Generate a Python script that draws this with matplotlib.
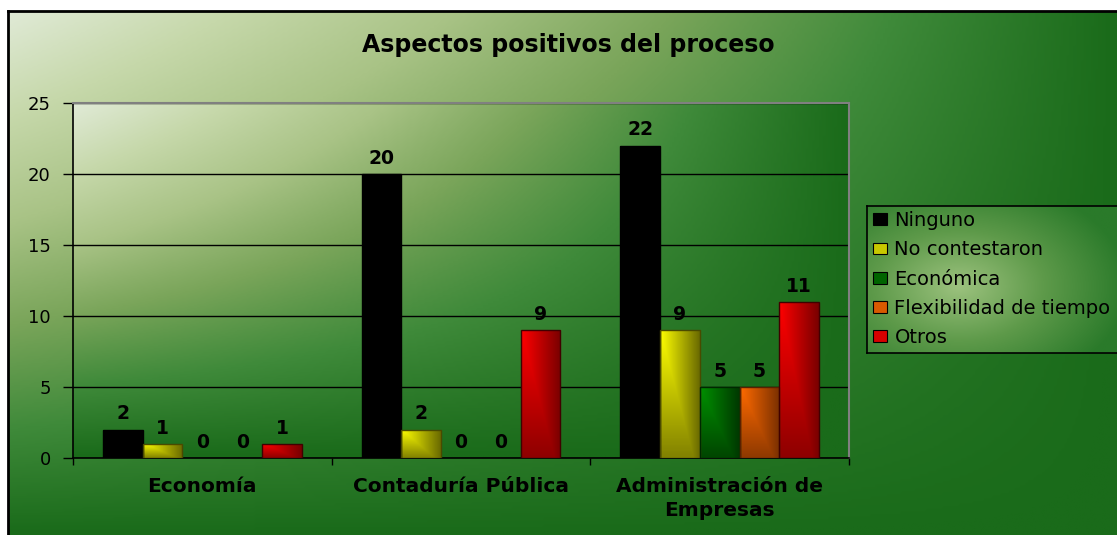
import numpy as np
import matplotlib
matplotlib.use("Agg")
import matplotlib.pyplot as plt
from matplotlib.colors import LinearSegmentedColormap
from matplotlib.patches import Patch

categorias = ["Economía", "Contaduría Pública", "Administración de\nEmpresas"]
series = ["Ninguno", "No contestaron", "Económica", "Flexibilidad de tiempo", "Otros"]
ninguno = [2, 20, 22]
no_contestaron = [1, 2, 9]
economica = [0, 0, 5]
flexibilidad = [0, 0, 5]
otros = [1, 9, 11]
valores = [ninguno, no_contestaron, economica, flexibilidad, otros]
yticks = [0, 5, 10, 15, 20, 25]

# (claro, oscuro, borde, leyenda) for each series
colores = [("#000000", "#000000", "#000000", "#000000"),
           ("#ffff00", "#6b6b00", "#4a4a00", "#c8c800"),
           ("#009000", "#003800", "#002800", "#006400"),
           ("#ff6a00", "#7a3000", "#5a2000", "#d85a00"),
           ("#ff0000", "#7a0000", "#400000", "#d80000")]

W, H = 1117, 535
fig = plt.figure(figsize=(W / 100, H / 100), dpi=100)
fig.patch.set_facecolor("white")

fondo = LinearSegmentedColormap.from_list(
    "fondo", ["#e0ead6", "#c6d8aa", "#a9c386", "#7aa55a", "#3f8a3a", "#1a6b1a"])


def esquina(nx, ny):
    # gradient starting at the top-left corner
    X, Y = np.meshgrid(np.linspace(0, 1, nx), np.linspace(0, 1, ny))
    return 1 - (1 - X) * (1 - Y)


# chart area background
bg = fig.add_axes([8 / W, 0, 1 - 8 / W, 1 - 11 / H], zorder=-2)
bg.imshow(esquina(400, 200), cmap=fondo, vmin=0, vmax=1, aspect="auto",
          extent=[0, 1, 0, 1], interpolation="bilinear")
bg.set_xticks([])
bg.set_yticks([])
for k, s in bg.spines.items():
    s.set_color("black")
    s.set_linewidth(2)
bg.spines["right"].set_visible(False)
bg.spines["bottom"].set_visible(False)

# plot area
pos = [73 / W, 1 - 458 / H, 776 / W, 355 / H]
pa = fig.add_axes(pos, zorder=-1)
pa.imshow(esquina(300, 150), cmap=fondo, vmin=0, vmax=1, aspect="auto",
          extent=[0, 1, 0, 1], interpolation="bilinear")
pa.axis("off")

ax = fig.add_axes(pos, zorder=0)
ax.patch.set_alpha(0)

x = np.arange(len(categorias))
ancho = 1 / 6.5
X, Y = np.meshgrid(np.linspace(0, 1, 40), np.linspace(0, 1, 120))
t = np.maximum(X, Y * 0.85)
for i, (vals, (claro, oscuro, borde, _)) in enumerate(zip(valores, colores)):
    barras = ax.bar(x + (i - 2) * ancho, vals, ancho, facecolor="none",
                    edgecolor=borde, linewidth=1, zorder=4)
    cmap = LinearSegmentedColormap.from_list(series[i], [claro, oscuro])
    for b in barras:
        h = b.get_height()
        if h <= 0:
            b.set_linewidth(0)
            continue
        x0 = b.get_x()
        im = ax.imshow(t, cmap=cmap, vmin=0, vmax=1, aspect="auto",
                       extent=[x0, x0 + b.get_width(), 0, h], zorder=3,
                       interpolation="bilinear")
        im.set_clip_path(b)
    ax.bar_label(barras, padding=4.5, fontsize=13.5, fontweight="bold")

ax.set_xlim(-0.5, 2.5)
ax.set_ylim(0, 25)
ax.set_yticks(yticks)
ax.yaxis.grid(True, color="black", linewidth=1)
ax.set_axisbelow(True)
ax.tick_params(axis="y", direction="out", length=7, width=1, pad=9, labelsize=13)
ax.set_xticks([-0.5, 0.5, 1.5, 2.5])
ax.set_xticklabels([])
ax.tick_params(axis="x", which="major", direction="out", length=5, width=1)
ax.set_xticks(x, minor=True)
ax.set_xticklabels(categorias, minor=True, fontsize=14.5, fontweight="bold",
                   linespacing=1.3)
ax.tick_params(axis="x", which="minor", length=0, pad=14)
for k in ["left", "bottom"]:
    ax.spines[k].set_color("black")
    ax.spines[k].set_linewidth(1.2)
for k in ["top", "right"]:
    ax.spines[k].set_color("#808080")
    ax.spines[k].set_linewidth(1.5)

fig.text(568 / W, 1 - 52 / H, "Aspectos positivos del proceso", ha="center",
         va="baseline", fontsize=17, fontweight="bold")

# legend box with its own gradient
lg = fig.add_axes([867 / W, 1 - 353 / H, 262 / W, 147 / H], zorder=1)
LX, LY = np.meshgrid(np.linspace(0, 1, 200), np.linspace(0, 1, 120))
d = np.sqrt(((LX - 0.35) / 0.65) ** 2 + ((LY - 0.55) / 0.75) ** 2)
lg.imshow(np.clip(d, 0, 1), cmap=LinearSegmentedColormap.from_list(
    "ley", ["#9cc27e", "#5e9a4a", "#2a7a2a"]), vmin=0, vmax=1, aspect="auto",
    extent=[0, 1, 0, 1], interpolation="bilinear")
lg.set_xticks([])
lg.set_yticks([])
for s in lg.spines.values():
    s.set_color("black")
    s.set_linewidth(1.2)

handles = [Patch(facecolor=c[3], edgecolor="black", linewidth=0.8) for c in colores]
fig.legend(handles, series, loc="upper left", bbox_to_anchor=(873 / W, 1 - 211 / H),
           frameon=False, borderaxespad=0, borderpad=0, fontsize=14,
           handlelength=0.7, handleheight=0.55, handletextpad=0.4, labelspacing=0.53)

fig.savefig("out.png", dpi=100)
